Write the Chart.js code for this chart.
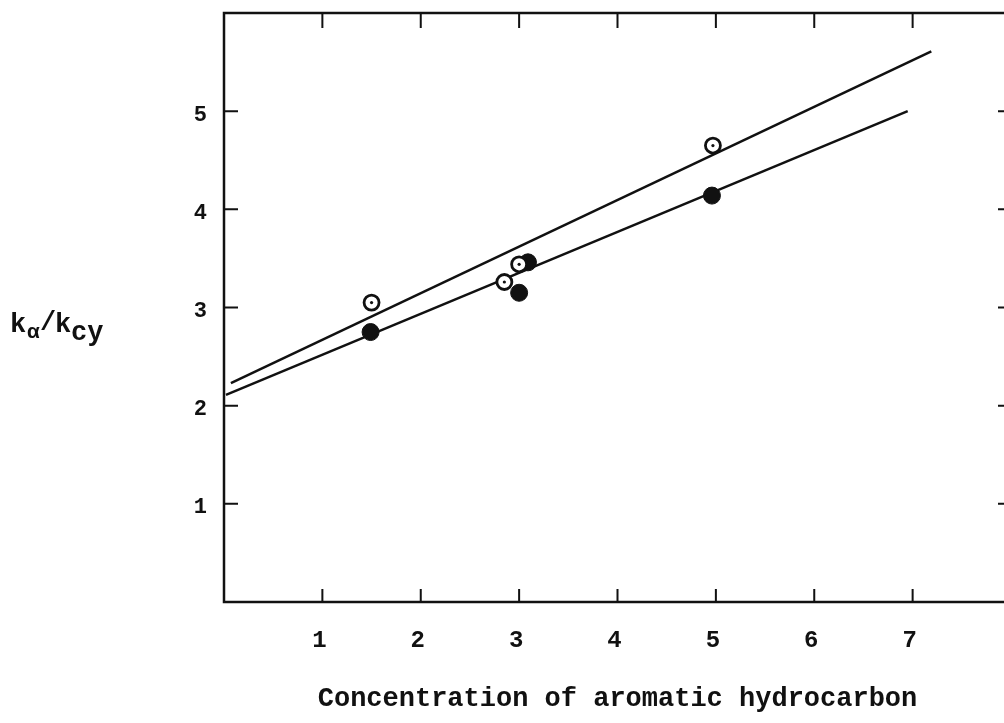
<!DOCTYPE html>
<html>
<head>
<meta charset="utf-8">
<script src="https://cdn.jsdelivr.net/npm/chart.js@4"></script>
<style>
  body { margin: 0; background: #fff; overflow: hidden; }
</style>
</head>
<body>
<canvas id="chart" width="1016" height="723"></canvas>
<script>
// points
const openX = [1.50, 2.85, 3.00, 4.97];
const openY = [3.05, 3.26, 3.44, 4.65];
const solidX = [1.49, 3.00, 3.09, 4.96];
const solidY = [2.75, 3.15, 3.46, 4.14];

// fitted lines (end points)
const upperX = [0.07, 7.19];
const upperY = [2.23, 5.61];
const lowerX = [0.02, 6.95];
const lowerY = [2.11, 5.00];

const xTicks = [1, 2, 3, 4, 5, 6, 7];
const yTicks = [1, 2, 3, 4, 5];

const ink = "#111";
const font = "Liberation Mono";

function pts(xs, ys) {
  return xs.map((x, i) => ({ x: x, y: ys[i] }));
}

// frame plus inward tick marks on all four sides
const framePlugin = {
  id: "frame",
  afterDatasetsDraw(chart) {
    const { ctx, chartArea: a, scales } = chart;
    ctx.save();
    ctx.strokeStyle = ink;
    ctx.lineWidth = 2.5;
    ctx.strokeRect(a.left, a.top, a.right - a.left, a.bottom - a.top);
    ctx.lineWidth = 2;
    ctx.beginPath();
    xTicks.forEach((v) => {
      const px = scales.x.getPixelForValue(v);
      ctx.moveTo(px, a.bottom);
      ctx.lineTo(px, a.bottom - 13);
      ctx.moveTo(px, a.top);
      ctx.lineTo(px, a.top + 15);
    });
    yTicks.forEach((v) => {
      const py = scales.y.getPixelForValue(v);
      ctx.moveTo(a.left, py);
      ctx.lineTo(a.left + 14, py);
      ctx.moveTo(a.right, py);
      ctx.lineTo(a.right - 13, py);
    });
    ctx.stroke();
    ctx.restore();
  },
};

// y label k_alpha / k_cy with subscripts
const yLabelPlugin = {
  id: "yLabel",
  afterDraw(chart) {
    const ctx = chart.ctx;
    ctx.save();
    ctx.fillStyle = ink;
    ctx.textBaseline = "alphabetic";
    ctx.font = "bold 27px '" + font + "'";
    ctx.fillText("k", 10, 332);
    ctx.font = "bold 21px '" + font + "'";
    ctx.fillText("\u03b1", 27, 338);
    ctx.font = "bold 27px '" + font + "'";
    ctx.fillText("/", 40, 330);
    ctx.fillText("k", 55, 332);
    ctx.fillText("cy", 71, 340);
    ctx.restore();
  },
};

new Chart(document.getElementById("chart"), {
  type: "scatter",
  data: {
    datasets: [
      {
        type: "line",
        data: pts(upperX, upperY),
        borderColor: ink,
        borderWidth: 2.5,
        pointRadius: 0,
        order: 4,
      },
      {
        type: "line",
        data: pts(lowerX, lowerY),
        borderColor: ink,
        borderWidth: 2.5,
        pointRadius: 0,
        order: 4,
      },
      {
        data: pts(solidX, solidY),
        backgroundColor: ink,
        borderColor: ink,
        borderWidth: 1,
        pointRadius: 8.5,
        order: 3,
      },
      {
        data: pts(openX, openY),
        backgroundColor: "#fff",
        borderColor: ink,
        borderWidth: 2.8,
        pointRadius: 7.5,
        order: 2,
      },
      {
        // centre dots of the open circles
        data: pts(openX, openY),
        backgroundColor: ink,
        borderWidth: 0,
        pointRadius: 1.6,
        order: 1,
      },
    ],
  },
  options: {
    responsive: false,
    animation: false,
    layout: { autoPadding: false, padding: { left: 0, top: 13, right: 5, bottom: 4 } },
    plugins: { legend: { display: false }, tooltip: { enabled: false } },
    scales: {
      x: {
        type: "linear",
        min: 0,
        max: 8,
        grid: { display: false, drawTicks: false },
        border: { display: false },
        ticks: {
          stepSize: 1,
          padding: 25,
          labelOffset: -3,
          color: ink,
          font: { family: font, size: 24, weight: "bold" },
          callback: (v) => (v >= 1 && v <= 7 ? v : null),
        },
        title: {
          display: true,
          text: "Concentration of aromatic hydrocarbon",
          color: ink,
          font: { family: font, size: 27, weight: "bold" },
          padding: { top: 0, bottom: 4 },
        },
        afterFit: (scale) => {
          scale.height = 117;
          scale.paddingLeft = 0;
          scale.paddingRight = 0;
        },
      },
      y: {
        min: 0,
        max: 6,
        grid: { display: false, drawTicks: false },
        border: { display: false },
        ticks: {
          stepSize: 1,
          padding: 17,
          labelOffset: 4,
          color: ink,
          font: { family: font, size: 22, weight: "bold" },
          callback: (v) => (v >= 1 && v <= 5 ? v : null),
        },
        afterFit: (scale) => {
          scale.width = 224;
          scale.paddingTop = 0;
          scale.paddingBottom = 0;
        },
      },
    },
  },
  plugins: [framePlugin, yLabelPlugin],
});
</script>
</body>
</html>
